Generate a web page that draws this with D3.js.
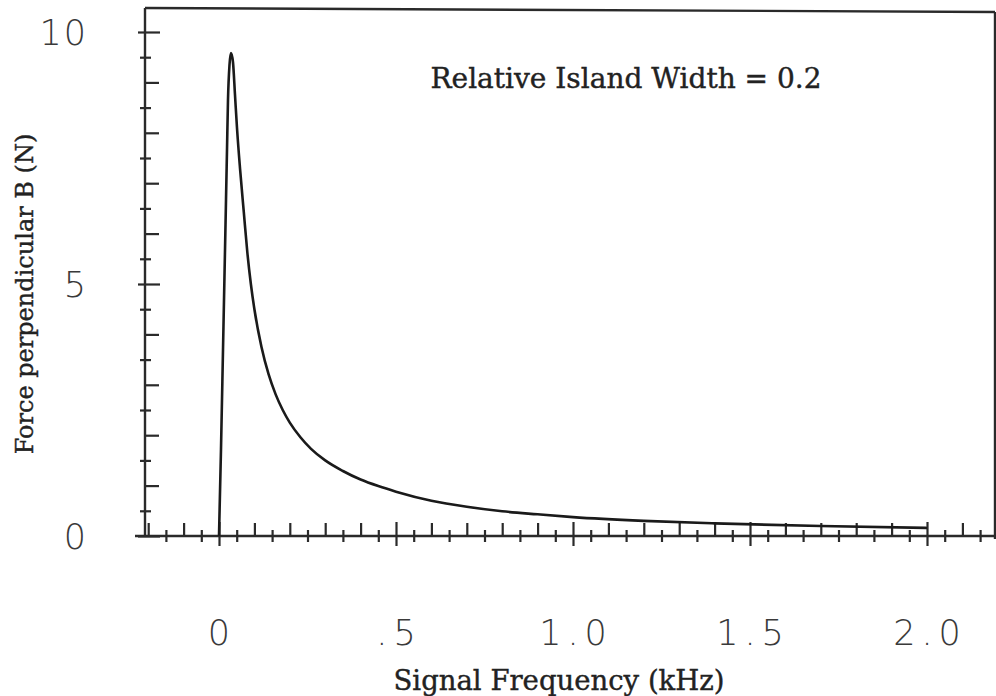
<!DOCTYPE html>
<html><head><meta charset="utf-8">
<script src="https://cdn.jsdelivr.net/npm/d3@7"></script>
<style>html,body{margin:0;padding:0;background:#fff;}svg{display:block;}</style>
</head><body>
<svg id="chart" width="996" height="696"></svg>
<script>
// Data: frequency (kHz) and force (N)
const freq = [0, 0.0056, 0.0113, 0.0198, 0.0226, 0.0254, 0.0297, 0.0339, 0.0395, 0.0452, 0.0508, 0.0593, 0.07, 0.08, 0.09, 0.10, 0.12, 0.14, 0.16, 0.18, 0.20, 0.23, 0.26, 0.30, 0.35, 0.40, 0.45, 0.50, 0.60, 0.70, 0.80, 0.90, 1.00, 1.20, 1.40, 1.70, 2.00];
const force = [0, 1.71, 3.69, 6.67, 7.66, 8.65, 9.35, 9.58, 9.40, 8.75, 8.10, 7.30, 6.43, 5.63, 5.00, 4.50, 3.75, 3.21, 2.81, 2.50, 2.25, 1.96, 1.73, 1.50, 1.29, 1.12, 0.99, 0.88, 0.70, 0.58, 0.49, 0.43, 0.375, 0.30, 0.25, 0.197, 0.16];
const xMajorTicks = [0, 0.5, 1.0, 1.5, 2.0];
const xTickLabels = ["0", ".5", "1.0", "1.5", "2.0"];
const xMediumTicks = [-0.2, -0.1, 0.1, 0.2, 0.3, 0.4, 0.6, 0.7, 0.8, 0.9, 1.1, 1.2, 1.3, 1.4, 1.6, 1.7, 1.8, 1.9, 2.1];
const xMinorTicks = [-0.15, -0.05, 0.05, 0.15, 0.25, 0.35, 0.45, 0.55, 0.65, 0.75, 0.85, 0.95, 1.05, 1.15, 1.25, 1.35, 1.45, 1.55, 1.65, 1.75, 1.85, 1.95, 2.05, 2.15];
const yMajorTicks = [0, 5, 10];
const yTickLabels = ["0", "5", "10"];
const yMediumTicks = [1, 2, 3, 4, 6, 7, 8, 9];
const yMinorTicks = [0.5, 1.5, 2.5, 3.5, 4.5, 5.5, 6.5, 7.5, 8.5, 9.5];
const xTitle = "Signal Frequency (kHz)";
const yTitle = "Force perpendicular B (N)";
const annotation = "Relative Island Width = 0.2";

(function () {
const svg = d3.select("#chart");
const ink = "#2a2a2a";
const x = d3.scaleLinear().domain([0, 2]).range([219, 927]);
const y = d3.scaleLinear().domain([0, 10]).range([536, 32]);
const pLeft = 145, pRight = 995, pTop = 8, pBottom = 536;

// frame
const frame = svg.append("g").attr("stroke", ink).attr("stroke-width", 2.4).attr("fill", "none");
frame.append("line").attr("x1", pLeft).attr("y1", pTop).attr("x2", pLeft).attr("y2", pBottom);
frame.append("line").attr("x1", pLeft).attr("y1", pTop).attr("x2", pRight).attr("y2", pTop + 4);
frame.append("line").attr("x1", pRight).attr("y1", pTop + 4).attr("x2", pRight).attr("y2", pBottom + 3);
frame.append("line").attr("x1", 135).attr("y1", pBottom).attr("x2", pRight).attr("y2", pBottom);

function tickGroup(axis, transform) {
  const g = svg.append("g").attr("transform", transform).call(axis);
  g.select(".domain").remove();
  g.selectAll(".tick line").attr("stroke", ink).attr("stroke-width", 2.2);
  g.selectAll(".tick text").remove();
  return g;
}
// x ticks
tickGroup(d3.axisTop(x).tickValues(xMajorTicks).tickSize(14).tickFormat(""), `translate(0,${pBottom})`);
tickGroup(d3.axisBottom(x).tickValues(xMajorTicks).tickSize(10).tickFormat(""), `translate(0,${pBottom})`);
tickGroup(d3.axisTop(x).tickValues(xMediumTicks).tickSize(13).tickFormat(""), `translate(0,${pBottom})`);
tickGroup(d3.axisTop(x).tickValues(xMinorTicks).tickSize(6).tickFormat(""), `translate(0,${pBottom})`);
tickGroup(d3.axisBottom(x).tickValues(xMinorTicks).tickSize(6).tickFormat(""), `translate(0,${pBottom})`);
// y ticks
tickGroup(d3.axisRight(y).tickValues(yMajorTicks).tickSize(15).tickFormat(""), `translate(${pLeft},0)`);
tickGroup(d3.axisLeft(y).tickValues(yMajorTicks).tickSize(7).tickFormat(""), `translate(${pLeft},0)`);
tickGroup(d3.axisRight(y).tickValues(yMediumTicks).tickSize(14).tickFormat(""), `translate(${pLeft},0)`);
tickGroup(d3.axisRight(y).tickValues(yMinorTicks).tickSize(6).tickFormat(""), `translate(${pLeft},0)`);
tickGroup(d3.axisLeft(y).tickValues(yMinorTicks).tickSize(5).tickFormat(""), `translate(${pLeft},0)`);

// tick labels
svg.append("g").selectAll("text").data(xMajorTicks).join("text")
  .attr("x", d => x(d) + 3).attr("y", 645)
  .attr("text-anchor", "middle")
  .attr("font-family", "DejaVu Sans").attr("font-weight", 200)
  .attr("font-size", 35).attr("letter-spacing", 6).attr("fill", "#3a3a3a")
  .text((d, i) => xTickLabels[i]);
svg.append("g").selectAll("text").data(yMajorTicks).join("text")
  .attr("x", 88).attr("y", d => y(d) + 13)
  .attr("text-anchor", "end")
  .attr("font-family", "DejaVu Sans").attr("font-weight", 200)
  .attr("font-size", 35).attr("letter-spacing", 2).attr("fill", "#3a3a3a")
  .text((d, i) => yTickLabels[i]);

// titles
const serif = "'DejaVu Serif', serif";
svg.append("text").attr("x", 559).attr("y", 690).attr("text-anchor", "middle")
  .attr("font-family", serif).attr("font-size", 27.5).attr("fill", "#222")
  .attr("stroke", "#222").attr("stroke-width", 0.4)
  .text(xTitle);
svg.append("text").attr("transform", "translate(33,294) rotate(-90)").attr("text-anchor", "middle")
  .attr("font-family", serif).attr("font-size", 24).attr("fill", "#222")
  .attr("stroke", "#222").attr("stroke-width", 0.4)
  .text(yTitle);
svg.append("text").attr("x", 626).attr("y", 88).attr("text-anchor", "middle")
  .attr("font-family", serif).attr("font-size", 28).attr("fill", "#222")
  .attr("stroke", "#222").attr("stroke-width", 0.4)
  .text(annotation);

// curve
const pts = freq.map((f, i) => [f, force[i]]);
svg.append("path").datum(pts)
  .attr("fill", "none").attr("stroke", "#1a1a1a").attr("stroke-width", 2.6)
  .attr("stroke-linejoin", "round")
  .attr("d", d3.line().x(d => x(d[0])).y(d => y(d[1])).curve(d3.curveMonotoneX));
})();
</script>
</body></html>
